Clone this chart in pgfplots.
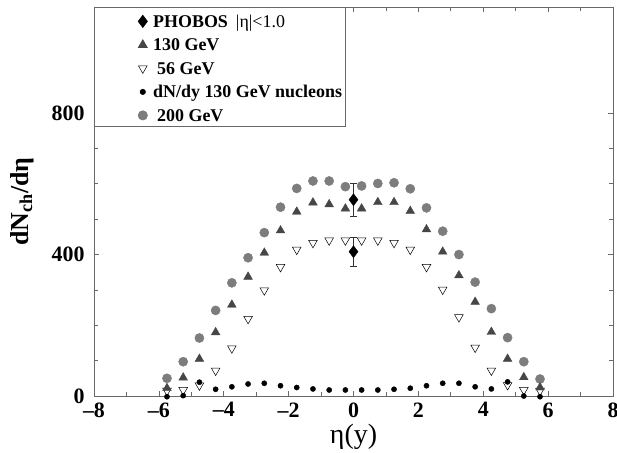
\documentclass[border=0pt]{standalone}
\usepackage{pgfplots}
\pgfplotsset{compat=1.18}
\usepackage{fontspec}
\setmainfont{Liberation Serif}

\definecolor{c200}{RGB}{125,125,125}
\definecolor{c130}{RGB}{70,70,70}
\definecolor{frame}{RGB}{105,105,105}

\begin{document}
\begin{tikzpicture}
\begin{axis}[
  scale only axis,
  width=519bp, height=389bp,
  xmin=-8, xmax=8, ymin=0, ymax=1100,
  clip=false,
  xtick={-8,-6,...,8},
  xticklabels={\textbf{–8},\textbf{–6},\textbf{–4},\textbf{–2},\textbf{0},\textbf{2},\textbf{4},\textbf{6},\textbf{8}},
  minor x tick num=1,
  ytick={0,400,800},
  yticklabels={\textbf{0},\textbf{400},\textbf{800}},
  minor y tick num=3,
  tick align=inside,
  ticks=both,
  xtick pos=both, ytick pos=both,
  major tick length=5bp, minor tick length=4bp,
  tick style={frame, line width=0.7bp},
  axis line style={frame, line width=0.8bp},
  ticklabel style={font=\fontsize{22}{22}\selectfont},
  xticklabel style={yshift=-3bp},
  yticklabel style={xshift=-6bp},
  xlabel={η(y)},
  xlabel style={font=\fontsize{28}{28}\selectfont, at={(axis description cs:0.5,-0.105)}, anchor=center},
  ylabel={\textbf{dN\textsubscript{ch}/dη}},
  ylabel style={font=\fontsize{26}{26}\selectfont, at={(axis description cs:-0.139,0.5)}, anchor=center},
  legend style={at={(0,1)}, anchor=north west, draw=frame, line width=0.8bp,
    font=\fontsize{18}{18}\selectfont\bfseries,
    inner xsep=2bp, inner ysep=5bp, row sep=8.5bp, column sep=3bp,
    nodes={inner xsep=1bp, inner ysep=0bp, text height=15bp, text depth=0bp},
    cells={anchor=base west}},
  reverse legend,
  legend image code/.code={
    \path (-46bp,0) (6bp,0);
    \draw[#1] plot coordinates {(0bp,6bp)};
  },
]
% 200 GeV
\addplot[only marks, mark=*, mark size=4.6bp, color=c200] coordinates {
  (-5.75,50) (-5.25,97) (-4.75,164) (-4.25,242) (-3.75,320) (-3.25,391)
  (-2.75,462) (-2.25,534) (-1.75,587) (-1.25,608) (-0.75,608) (-0.25,592)
  (0.25,594) (0.75,601) (1.25,603) (1.75,586) (2.25,532) (2.75,466)
  (3.25,400) (3.75,322) (4.25,247) (4.75,165) (5.25,97) (5.75,48)
};
% dN/dy 130 GeV nucleons
\addplot[only marks, mark=*, mark size=2.6bp, color=black] coordinates {
  (-5.75,-2) (-5.25,1) (-4.75,39) (-4.25,19) (-3.75,26) (-3.25,34)
  (-2.75,36) (-2.25,29) (-1.75,24) (-1.25,20) (-0.75,17) (-0.25,17)
  (0.25,17) (0.75,17) (1.25,19) (1.75,22) (2.25,29) (2.75,36)
  (3.25,36) (3.75,26) (4.25,20) (4.75,40) (5.25,0) (5.75,-2)
};
% 56 GeV
\addplot[only marks, mark=triangle, mark size=5bp, color=black,
  mark options={rotate=180, line width=0.5bp, fill=white}] coordinates {
  (-5.75,15) (-5.25,17) (-4.75,30) (-4.25,72) (-3.75,135) (-3.25,218)
  (-2.75,299) (-2.25,365) (-1.75,414) (-1.25,433) (-0.75,440) (-0.25,440)
  (0.25,440) (0.75,440) (1.25,433) (1.75,414) (2.25,365) (2.75,301)
  (3.25,223) (3.75,137) (4.25,72) (4.75,31) (5.25,17) (5.75,15)
};
% 130 GeV
\addplot[only marks, mark=triangle*, mark size=5bp, color=c130] coordinates {
  (-5.75,22) (-5.25,52) (-4.75,105) (-4.25,180) (-3.75,258) (-3.25,337)
  (-2.75,405) (-2.25,468) (-1.75,521) (-1.25,547) (-0.75,542) (-0.25,530)
  (0.25,530) (0.75,548) (1.25,548) (1.75,523) (2.25,471) (2.75,408)
  (3.25,341) (3.75,266) (4.25,181) (4.75,105) (5.25,53) (5.75,24)
};
% PHOBOS
\addplot[only marks, mark=diamond*, mark size=6bp, color=black,
  error bars/.cd, y dir=both, y explicit,
  error bar style={line width=0.6bp, color=black!80},
  error mark options={rotate=90, mark size=3.5bp, line width=0.6bp, color=black!80}]
  coordinates {(0,555) +- (0,47) (0,408) +- (0,42)};
\legend{\hspace{4bp}200 GeV, dN/dy 130 GeV nucleons, \hspace{4bp}56 GeV, 130 GeV,
  PHOBOS\hspace{8bp}{\mdseries |η|<1.0}}
\end{axis}
\pgfresetboundingbox
\path ([xshift=-94bp,yshift=-57bp]current axis.south west) rectangle ([xshift=4bp,yshift=7bp]current axis.north east);
\end{tikzpicture}
\end{document}
